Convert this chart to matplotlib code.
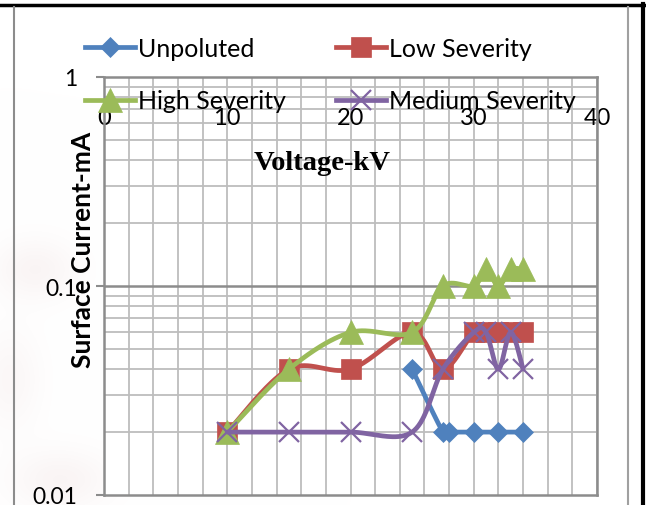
import numpy as np
import matplotlib
matplotlib.use("Agg")
import matplotlib.pyplot as plt
from matplotlib.lines import Line2D
from matplotlib.ticker import LogLocator, NullFormatter, FixedLocator, FixedFormatter

plt.rcParams['font.family'] = ['Lato', 'DejaVu Sans']

# ---- data ----
unpol_x = [25, 27.5, 28, 30, 32, 34]
unpol_y = [0.04, 0.02, 0.02, 0.02, 0.02, 0.02]
low_x = [10, 15, 20, 25, 27.5, 30, 31, 32, 33, 34]
low_y = [0.02, 0.04, 0.04, 0.06, 0.04, 0.06, 0.06, 0.06, 0.06, 0.06]
high_x = [10, 15, 20, 25, 27.5, 30, 31, 32, 33, 34]
high_y = [0.02, 0.04, 0.06, 0.06, 0.1, 0.1, 0.12, 0.1, 0.12, 0.12]
med_x = [10, 15, 20, 25, 27.5, 30, 31, 32, 33, 34]
med_y = [0.02, 0.02, 0.02, 0.02, 0.04, 0.06, 0.06, 0.04, 0.06, 0.04]
x_ticks = [0, 10, 20, 30, 40]
y_ticks = [0.01, 0.1, 1]
y_tick_labels = ["0.01", "0.1", "1"]

W, H = 646, 506
fig = plt.figure(figsize=(W / 100, H / 100), dpi=100)
fig.patch.set_facecolor('white')

# faint background watermark tint on the left (decoration only)
bg = fig.add_axes([0, 0, 1, 1], zorder=-5)
bg.axis('off')
gy, gx = np.mgrid[0:H, 0:W]
def blob(cx, cy, rx, ry):
    return np.exp(-(((gx - cx) / rx) ** 2 + ((gy - cy) / ry) ** 2))
tint = np.clip(0.08 * blob(35, 270, 40, 30) + 0.06 * blob(10, 380, 30, 50) + 0.08 * blob(60, 480, 50, 30), 0, 1)
img = np.ones((H, W, 3))
img[..., 0] -= tint * 0.25
img[..., 1] -= tint * 0.5
img[..., 2] -= tint * 0.5
bg.imshow(img, extent=(0, W, H, 0), aspect='auto', interpolation='bilinear')
bg.set_xlim(0, W)
bg.set_ylim(H, 0)

L, R, T, B = 104, 597, 78, 496
ax = fig.add_axes([L / W, 1 - B / H, (R - L) / W, (B - T) / H])
ax.set_facecolor('white')
ax.set_yscale('log')
ax.set_xlim(0, 40)
ax.set_ylim(0.01, 1)

SX = (R - L) / 40.0
SY = (B - T) / 2.0


def smooth(xs, ys, n=40):
    P = np.column_stack([np.asarray(xs, float) * SX, np.log10(ys) * SY])
    out = []
    for i in range(len(P) - 1):
        p0 = P[i - 1] if i > 0 else P[i]
        p1 = P[i]
        p2 = P[i + 1]
        p3 = P[i + 2] if i + 2 < len(P) else P[i + 1]
        c1 = p1 + (p2 - p0) / 6.0
        c2 = p2 - (p3 - p1) / 6.0
        t = np.linspace(0, 1, n)[:, None]
        seg = (1 - t) ** 3 * p1 + 3 * (1 - t) ** 2 * t * c1 + 3 * (1 - t) * t ** 2 * c2 + t ** 3 * p2
        out.append(seg if i == 0 else seg[1:])
    pts = np.vstack(out)
    return pts[:, 0] / SX, 10 ** (pts[:, 1] / SY)


series = [
    ("Unpoluted", unpol_x, unpol_y, '#4F81BD', 'D', 10, 0.5),
    ("Low Severity", low_x, low_y, '#C0504D', 's', 14, 0.5),
    ("High Severity", high_x, high_y, '#9BBB59', '^', 17, 0.5),
    ("Medium Severity", med_x, med_y, '#8064A2', 'x', 14, 1.6),
]
handles = {}
z = 3
for name, xs, ys, c, m, ms, mew in series:
    sx, sy = smooth(xs, ys)
    ax.plot(sx, sy, color=c, lw=3.4, solid_capstyle='round', zorder=z, clip_on=False)
    ax.plot(xs, ys, ls='none', marker=m, ms=ms, color=c, mec=c, mew=mew, zorder=z + 0.5, clip_on=False)
    handles[name] = Line2D([], [], color=c, lw=3.4, marker=m, ms=ms, mec=c, mew=mew)
    z += 1

# grid
for xv in np.arange(0, 41, 2):
    ax.axvline(xv, color='#BDBDBD', lw=1.3, zorder=1)
for d in [0.01, 0.1]:
    for k in range(2, 10):
        ax.axhline(d * k, color='#BDBDBD', lw=1.3, zorder=1)
ax.axhline(0.1, color='#8C8C8C', lw=1.8, zorder=1.5)

for s in ax.spines.values():
    s.set_color('#8C8C8C')
    s.set_linewidth(1.8)

ax.yaxis.set_major_locator(FixedLocator(y_ticks))
ax.yaxis.set_major_formatter(FixedFormatter(y_tick_labels))
ax.yaxis.set_minor_locator(LogLocator(subs=[]))
ax.yaxis.set_minor_formatter(NullFormatter())
ax.tick_params(axis='y', which='major', length=5.8, width=1.5, color='#8C8C8C', pad=13.5, labelsize=16.5)
ax.tick_params(axis='y', which='minor', length=0)

ax.xaxis.set_major_locator(FixedLocator(x_ticks))
ax.xaxis.tick_top()
ax.tick_params(axis='x', which='major', length=0, top=True, bottom=False, labeltop=True,
               labelbottom=False, pad=-37, labelsize=17)

fig.text(322 / W, 1 - 163 / H, "Voltage-kV", ha='center', va='center', fontsize=20.5,
         fontweight='bold', family=['Liberation Serif', 'DejaVu Serif'])
fig.text(83 / W, 1 - 250 / H, "Surface Current-mA", ha='center', va='center', rotation=90,
         fontsize=19, fontweight='bold')

order = ["Unpoluted", "High Severity", "Low Severity", "Medium Severity"]
leg = fig.legend([handles[n] for n in order], order, ncol=2, loc='upper left',
                 bbox_to_anchor=(85 / W, 1 - 38 / H), frameon=False, fontsize=18,
                 handlelength=2.0, handletextpad=0.12, columnspacing=2.0, labelspacing=1.17,
                 borderpad=0, borderaxespad=0)
leg.set_zorder(10)

# outer frame decorations
fig.add_artist(Line2D([0, 1], [1 - 6 / H, 1 - 6 / H], color='black', lw=2.5, transform=fig.transFigure))
fig.add_artist(Line2D([643 / W, 643 / W], [0, 1 - 5 / H], color='black', lw=3, transform=fig.transFigure))
fig.add_artist(Line2D([14 / W, 14 / W], [0, 1 - 8 / H], color='#8C8C8C', lw=1.5, transform=fig.transFigure))
fig.add_artist(Line2D([627.5 / W, 627.5 / W], [0, 1 - 8 / H], color='#A0A0A0', lw=1.5, transform=fig.transFigure))

fig.savefig('out.png', dpi=100)
